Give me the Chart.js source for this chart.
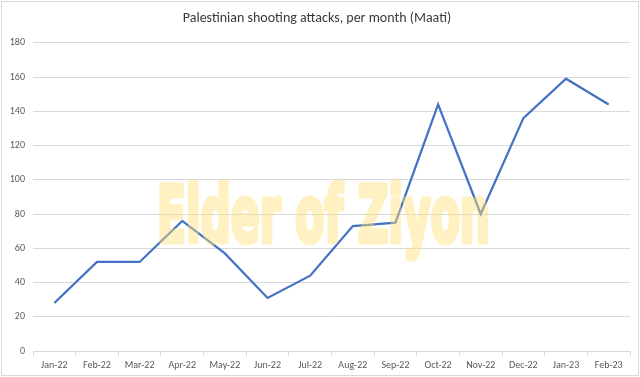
<!DOCTYPE html>
<html>
<head>
<meta charset="utf-8">
<script src="https://cdn.jsdelivr.net/npm/chart.js@4"></script>
<style>
html,body{margin:0;padding:0;background:#fff;}
#wrap{position:relative;width:640px;height:377px;}
</style>
</head>
<body>
<div id="wrap"><canvas id="c" width="640" height="377"></canvas></div>
<script>
const categories = ["Jan-22","Feb-22","Mar-22","Apr-22","May-22","Jun-22","Jul-22","Aug-22","Sep-22","Oct-22","Nov-22","Dec-22","Jan-23","Feb-23"];
const attacks = [28, 52, 52, 76, 57, 31, 44, 73, 75, 144, 80, 136, 159, 144];
const titleText = "Palestinian shooting attacks, per month (Maati)";
const watermarkText = "Elder of Ziyon";

const borderPlugin = {
  id: 'outerBorder',
  beforeDraw(chart) {
    const ctx = chart.ctx;
    ctx.save();
    ctx.fillStyle = '#ffffff';
    ctx.fillRect(0, 0, chart.width, chart.height);
    ctx.strokeStyle = '#d9d9d9';
    ctx.lineWidth = 1;
    ctx.strokeRect(1.5, 1.5, chart.width - 3, chart.height - 3);
    ctx.restore();
  }
};

const watermarkPlugin = {
  id: 'watermark',
  afterDatasetsDraw(chart) {
    const off = document.createElement('canvas');
    off.width = chart.width; off.height = chart.height;
    const o = off.getContext('2d');
    o.font = 'bold 78px "DejaVu Sans Condensed", "Liberation Sans Narrow", sans-serif';
    o.textBaseline = 'alphabetic';
    o.textAlign = 'left';
    const w = o.measureText(watermarkText).width;
    const sx = 333 / w;
    o.translate(157, 242);
    o.scale(sx, 1);
    o.fillStyle = '#ffe27a';
    o.strokeStyle = '#ffe27a';
    o.lineWidth = 5;
    o.lineJoin = 'round';
    o.strokeText(watermarkText, 0, 0);
    o.fillText(watermarkText, 0, 0);
    const ctx = chart.ctx;
    ctx.save();
    ctx.globalAlpha = 0.45;
    ctx.drawImage(off, 0, 0);
    ctx.restore();
  }
};

new Chart(document.getElementById('c'), {
  type: 'line',
  data: {
    labels: categories,
    datasets: [{
      data: attacks,
      borderColor: '#4472c4',
      borderWidth: 2.25,
      pointRadius: 0,
      tension: 0,
      fill: false
    }]
  },
  options: {
    responsive: false,
    animation: false,
    devicePixelRatio: 1,
    layout: { padding: { left: 4, right: 10, top: 0, bottom: 3 } },
    plugins: {
      legend: { display: false },
      tooltip: { enabled: false },
      title: {
        display: true,
        text: titleText,
        color: '#3a3a3a',
        font: { family: 'Carlito, "Open Sans", sans-serif', size: 14, weight: 'normal' },
        padding: { top: 10, bottom: 16 }
      }
    },
    scales: {
      x: {
        offset: true,
        grid: { offset: true, drawOnChartArea: false, drawTicks: true, tickLength: 5, color: '#d9d9d9' },
        border: { color: '#d9d9d9' },
        ticks: { color: '#595959', font: { family: 'Carlito, "Liberation Sans", sans-serif', size: 10 }, maxRotation: 0, autoSkip: false, padding: 3 }
      },
      y: {
        min: 0, max: 180,
        afterFit(scale) { scale.width = 29; },
        grid: { color: '#d9d9d9', drawTicks: false },
        border: { display: false },
        ticks: { stepSize: 20, color: '#595959', font: { family: 'Carlito, "Liberation Sans", sans-serif', size: 10 }, padding: 8 }
      }
    }
  },
  plugins: [borderPlugin, watermarkPlugin]
});
</script>
</body>
</html>
